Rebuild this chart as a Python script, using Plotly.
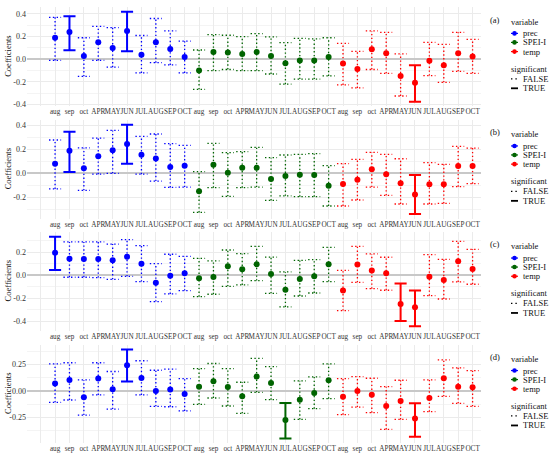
import plotly.graph_objects as go

# months shown under each block of 10 points, repeated for prec / SPEI-I / temp
months = ["aug", "sep", "oct", "APR", "MAY", "JUN", "JUL", "AUG", "SEP", "OCT"]
variables = ["prec", "SPEI-I", "temp"]
var_colors = {"prec": "#0000FF", "SPEI-I": "#006400", "temp": "#FF0000"}
panel_tags = ["(a)", "(b)", "(c)", "(d)"]

# ---- panel (a): 10 prec, 10 SPEI-I, 10 temp
est_a = [0.19, 0.24, 0.03, 0.15, 0.10, 0.25, 0.04, 0.15, 0.09, 0.02,
         -0.10, 0.065, 0.06, 0.047, 0.065, 0.03, -0.035, -0.01, -0.01, 0.02,
         -0.038, -0.085, 0.088, 0.053, -0.147, -0.206, -0.012, -0.053, 0.053, 0.024]
lo_a = [-0.01, 0.08, -0.15, -0.01, -0.07, 0.07, -0.12, -0.03, -0.05, -0.12,
        -0.265, -0.10, -0.09, -0.10, -0.10, -0.13, -0.22, -0.175, -0.175, -0.147,
        -0.226, -0.253, -0.09, -0.124, -0.324, -0.374, -0.144, -0.203, -0.106, -0.124]
hi_a = [0.37, 0.38, 0.19, 0.29, 0.28, 0.42, 0.21, 0.36, 0.25, 0.16,
        0.082, 0.218, 0.212, 0.20, 0.226, 0.197, 0.147, 0.185, 0.18, 0.19,
        0.14, 0.07, 0.25, 0.238, 0.047, -0.053, 0.15, 0.132, 0.238, 0.176]
sig_a = [0, 1, 0, 0, 0, 1, 0, 0, 0, 0,
         0, 0, 0, 0, 0, 0, 0, 0, 0, 0,
         0, 0, 0, 0, 0, 1, 0, 0, 0, 0]

# ---- panel (b)
est_b = [0.078, 0.186, 0.039, 0.139, 0.189, 0.242, 0.153, 0.12, 0.05, 0.061,
         -0.153, 0.069, 0.003, 0.044, 0.044, -0.05, -0.025, -0.014, -0.017, -0.106,
         -0.092, -0.056, 0.031, -0.011, -0.086, -0.178, -0.094, -0.094, 0.058, 0.058]
lo_b = [-0.133, 0.008, -0.144, -0.01, -0.003, 0.078, -0.01, -0.067, -0.12, -0.117,
        -0.328, -0.122, -0.194, -0.122, -0.117, -0.228, -0.19, -0.197, -0.197, -0.275,
        -0.275, -0.225, -0.117, -0.186, -0.258, -0.342, -0.258, -0.253, -0.114, -0.089]
hi_b = [0.275, 0.344, 0.21, 0.29, 0.355, 0.403, 0.306, 0.325, 0.244, 0.23,
        0.011, 0.247, 0.17, 0.178, 0.214, 0.128, 0.15, 0.155, 0.161, 0.061,
        0.078, 0.114, 0.172, 0.155, 0.119, -0.017, 0.086, 0.072, 0.222, 0.208]
sig_b = [0, 1, 0, 0, 0, 1, 0, 0, 0, 0,
         0, 0, 0, 0, 0, 0, 0, 0, 0, 0,
         0, 0, 0, 0, 0, 1, 0, 0, 0, 0]

# ---- panel (c)
est_c = [0.197, 0.145, 0.142, 0.142, 0.13, 0.162, 0.101, -0.064, -0.003, 0.017,
         -0.026, -0.014, 0.078, 0.052, 0.096, 0.012, -0.125, -0.032, -0.009, 0.096,
         -0.133, 0.093, 0.041, 0.017, -0.249, -0.278, -0.012, -0.041, 0.122, 0.055]
lo_c = [0.046, -0.017, -0.017, -0.02, -0.035, -0.009, -0.055, -0.229, -0.162, -0.133,
        -0.186, -0.165, -0.096, -0.084, -0.046, -0.157, -0.275, -0.18, -0.154, -0.055,
        -0.307, -0.061, -0.116, -0.13, -0.397, -0.443, -0.177, -0.206, -0.058, -0.078]
hi_c = [0.336, 0.29, 0.29, 0.29, 0.272, 0.31, 0.258, 0.101, 0.183, 0.165,
        0.148, 0.125, 0.22, 0.188, 0.252, 0.159, 0.029, 0.13, 0.136, 0.243,
        0.043, 0.252, 0.186, 0.157, -0.072, -0.133, 0.18, 0.139, 0.296, 0.226]
sig_c = [1, 0, 0, 0, 0, 0, 0, 0, 0, 0,
         0, 0, 0, 0, 0, 0, 0, 0, 0, 0,
         0, 0, 0, 0, 1, 1, 0, 0, 0, 0]

# ---- panel (d)
est_d = [0.07, 0.105, -0.06, 0.118, 0.016, 0.245, 0.124, 0.0, 0.013, -0.029,
         0.041, 0.092, 0.038, -0.051, 0.137, 0.075, -0.277, -0.083, -0.019, 0.102,
         -0.054, 0.0, -0.035, -0.143, -0.096, -0.261, -0.067, 0.121, 0.041, 0.035]
lo_d = [-0.108, -0.086, -0.229, -0.038, -0.172, 0.089, -0.038, -0.146, -0.15, -0.19,
        -0.127, -0.067, -0.143, -0.213, -0.013, -0.083, -0.452, -0.271, -0.169, -0.073,
        -0.226, -0.153, -0.207, -0.366, -0.271, -0.436, -0.197, -0.051, -0.118, -0.146]
hi_d = [0.258, 0.268, 0.105, 0.268, 0.185, 0.395, 0.287, 0.197, 0.207, 0.118,
        0.213, 0.261, 0.213, 0.083, 0.309, 0.232, -0.115, 0.096, 0.134, 0.258,
        0.118, 0.137, 0.121, 0.041, 0.102, -0.118, 0.105, 0.296, 0.22, 0.194]
sig_d = [0, 0, 0, 0, 0, 1, 0, 0, 0, 0,
         0, 0, 0, 0, 0, 0, 1, 0, 0, 0,
         0, 0, 0, 0, 0, 1, 0, 0, 0, 0]

# y tick labels per panel
yticks_abc = [-0.4, -0.2, 0.0, 0.2, 0.4]
yticktext_abc = ["-0.4", "-0.2", "0.0", "0.2", "0.4"]
yticks_d = [-0.25, 0.0, 0.25]
yticktext_d = ["-0.25", "0.00", "0.25"]

panels = [
    (est_a, lo_a, hi_a, sig_a, yticks_abc, yticktext_abc, [-0.414, 0.458], 0.1),
    (est_b, lo_b, hi_b, sig_b, yticks_abc, yticktext_abc, [-0.379, 0.44], 0.1),
    (est_c, lo_c, hi_c, sig_c, yticks_abc, yticktext_abc, [-0.482, 0.375], 0.1),
    (est_d, lo_d, hi_d, sig_d, yticks_d, yticktext_d, [-0.494, 0.437], 0.125),
]

# ---- layout in pixels
W, H = 550, 457
X0, X1 = 27, 480.5
panel_px = [(7.4, 106.2), (120.2, 218.5), (232.2, 330.7), (345, 442.9)]
CAP = 0.42
FONT = "Liberation Serif"
GRID = "#EBEBEB"
MINOR = "#F4F4F4"
TXT = "#111111"

xpos = list(range(1, 31))
xticktext = months * 3

fig = go.Figure()
annotations = []
shapes = []


def px_x(p):
    return p / W


def px_y(p):
    return 1 - p / H


def note(x, y, text, anchor="center", angle=0):
    annotations.append(dict(
        x=px_x(x), y=px_y(y), xref="paper", yref="paper", text=text,
        xanchor=anchor, yanchor="middle", textangle=angle, showarrow=False,
        font=dict(family=FONT, size=8.5, color=TXT)))


for k, (est, lo, hi, sig, ytv, ytt, yr, minor_dt) in enumerate(panels):
    xa = "x" if k == 0 else f"x{k+1}"
    ya = "y" if k == 0 else f"y{k+1}"
    for j, v in enumerate(variables):
        idx = list(range(j * 10, j * 10 + 10))
        for s in (0, 1):
            xs, ys = [], []
            for i in idx:
                if sig[i] != s:
                    continue
                x = xpos[i]
                xs += [x, x, None, x - CAP, x + CAP, None, x - CAP, x + CAP, None]
                ys += [lo[i], hi[i], None, hi[i], hi[i], None, lo[i], lo[i], None]
            if not xs:
                continue
            fig.add_trace(go.Scatter(
                x=xs, y=ys, mode="lines", xaxis=xa, yaxis=ya,
                line=dict(color=var_colors[v], width=2 if s else 1.3,
                          dash="solid" if s else "1.4px,2.4px"),
                showlegend=False, hoverinfo="skip"))
        fig.add_trace(go.Scatter(
            x=[xpos[i] for i in idx], y=[est[i] for i in idx],
            mode="markers", xaxis=xa, yaxis=ya, name=v,
            marker=dict(color=var_colors[v], size=6),
            showlegend=False))

    top, bot = panel_px[k]
    fig.update_layout({
        f"xaxis{k+1 if k else ''}": dict(
            domain=[px_x(X0), px_x(X1)], range=[-0.95, 30.55], anchor=ya,
            tickmode="array", tickvals=[0] + xpos, ticktext=[""] + xticktext,
            tickangle=0, showgrid=True, gridcolor=GRID, gridwidth=1, zeroline=False,
            ticks="", showline=False, fixedrange=True,
            tickfont=dict(family=FONT, size=7.2, color="#333333")),
        f"yaxis{k+1 if k else ''}": dict(
            domain=[px_y(bot), px_y(top)], range=yr, anchor=xa,
            tickmode="array", tickvals=ytv, ticktext=ytt,
            showgrid=True, gridcolor=GRID, gridwidth=1,
            minor=dict(dtick=minor_dt, tick0=0, showgrid=True,
                       gridcolor=MINOR, gridwidth=0.6),
            zeroline=True, zerolinecolor="#C8C8C8", zerolinewidth=1.5,
            ticks="", showline=False,
            tickfont=dict(family=FONT, size=8, color="#333333")),
    })

    cy = (top + bot) / 2
    note(8, cy, "Coefficients", angle=-90)
    note(495, cy - 37, panel_tags[k])
    note(509, cy - 35, "variable", anchor="left")
    for v, off in zip(variables, [-23.4, -14.4, -5.2]):
        yy = px_y(cy + off)
        shapes.append(dict(type="line", xref="paper", yref="paper",
                           x0=px_x(511), x1=px_x(518), y0=yy, y1=yy,
                           line=dict(color=var_colors[v], width=1.2)))
        shapes.append(dict(type="circle", xref="paper", yref="paper",
                           x0=px_x(512.2), x1=px_x(516.8),
                           y0=px_y(cy + off + 2.3), y1=px_y(cy + off - 2.3),
                           fillcolor=var_colors[v], line=dict(width=0)))
        note(521, cy + off, v, anchor="left")
    note(509, cy + 12, "significant", anchor="left")
    for lab, off, dash, wd in [("FALSE", 22, "1.4px,3px", 1.3), ("TRUE", 31.5, "solid", 1.8)]:
        yy = px_y(cy + off)
        shapes.append(dict(type="line", xref="paper", yref="paper",
                           x0=px_x(511), x1=px_x(518), y0=yy, y1=yy,
                           line=dict(color="black", width=wd, dash=dash)))
        note(521, cy + off, lab, anchor="left")

fig.update_layout(
    width=W, height=H,
    margin=dict(l=0, r=0, t=0, b=0, autoexpand=False),
    paper_bgcolor="white", plot_bgcolor="white",
    showlegend=False,
    annotations=annotations, shapes=shapes,
    font=dict(family=FONT),
)

# the page body has a default 8px margin; drop it so the figure fills the window
fig.write_html("out.html", config={"displayModeBar": False},
               post_script="document.body.style.margin = '0px';")
